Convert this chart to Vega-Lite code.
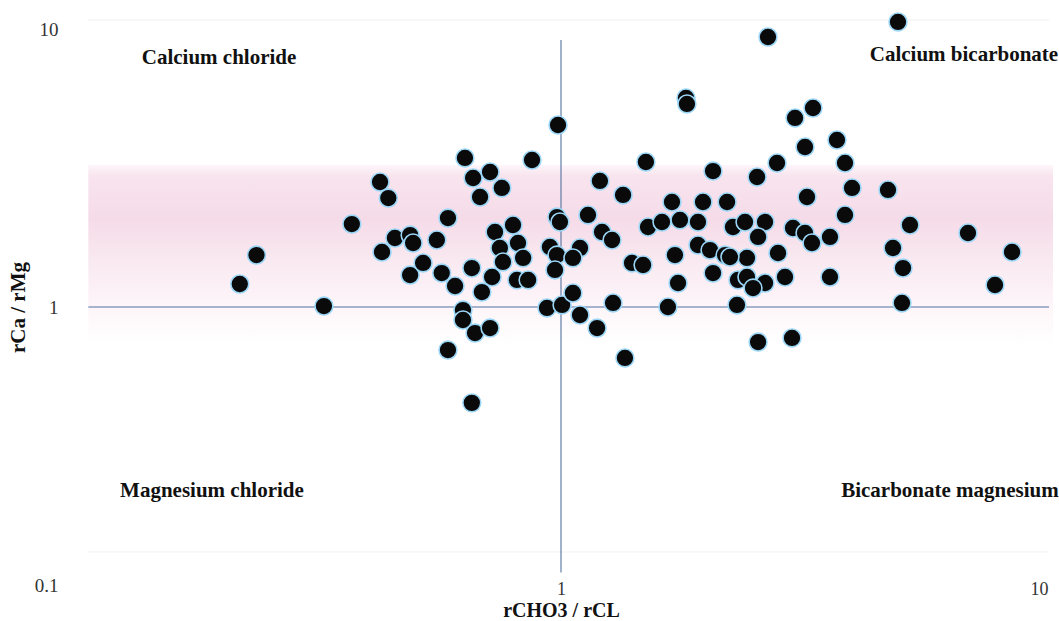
{
  "$schema": "https://vega.github.io/schema/vega-lite/v6.json",
  "width": 974,
  "height": 556,
  "autosize": "none",
  "padding": {"left": 74, "top": 29, "right": 11, "bottom": 36},
  "background": "white",
  "config": {
    "view": {"stroke": null},
    "font": "Liberation Serif"
  },
  "datasets": {
    "points": [
      {"x": 0.219, "y": 1.210}, {"x": 0.237, "y": 1.538}, {"x": 0.326, "y": 1.008}, {"x": 0.372, "y": 1.988},
      {"x": 0.425, "y": 2.816}, {"x": 0.442, "y": 2.466}, {"x": 0.429, "y": 1.577}, {"x": 0.456, "y": 1.771},
      {"x": 0.490, "y": 1.815}, {"x": 0.497, "y": 1.699}, {"x": 0.490, "y": 1.303}, {"x": 0.521, "y": 1.440},
      {"x": 0.556, "y": 1.742}, {"x": 0.586, "y": 2.089}, {"x": 0.569, "y": 1.325}, {"x": 0.606, "y": 1.190},
      {"x": 0.656, "y": 1.381}, {"x": 0.688, "y": 1.132}, {"x": 0.722, "y": 1.282}, {"x": 0.732, "y": 1.861},
      {"x": 0.797, "y": 1.972}, {"x": 0.749, "y": 1.630}, {"x": 0.816, "y": 1.699}, {"x": 0.836, "y": 1.501},
      {"x": 0.760, "y": 1.452}, {"x": 0.812, "y": 1.251}, {"x": 0.856, "y": 1.251}, {"x": 0.635, "y": 3.436},
      {"x": 0.872, "y": 3.379}, {"x": 0.660, "y": 2.911}, {"x": 0.715, "y": 3.059}, {"x": 0.756, "y": 2.680},
      {"x": 0.682, "y": 2.487}, {"x": 0.629, "y": 0.975}, {"x": 0.629, "y": 0.898}, {"x": 0.666, "y": 0.806},
      {"x": 0.715, "y": 0.840}, {"x": 0.586, "y": 0.700}, {"x": 0.656, "y": 0.452}, {"x": 0.936, "y": 0.992},
      {"x": 0.949, "y": 1.644}, {"x": 0.981, "y": 1.538}, {"x": 0.981, "y": 2.107}, {"x": 0.995, "y": 2.022},
      {"x": 0.972, "y": 1.359}, {"x": 0.986, "y": 4.515}, {"x": 1.005, "y": 1.017}, {"x": 1.058, "y": 1.123},
      {"x": 1.094, "y": 0.936}, {"x": 1.186, "y": 0.840}, {"x": 1.279, "y": 1.034}, {"x": 1.353, "y": 0.656},
      {"x": 1.094, "y": 1.630}, {"x": 1.058, "y": 1.501}, {"x": 1.136, "y": 2.143}, {"x": 1.214, "y": 1.861},
      {"x": 1.273, "y": 1.742}, {"x": 1.202, "y": 2.840}, {"x": 1.341, "y": 2.529}, {"x": 1.494, "y": 3.323},
      {"x": 1.399, "y": 1.440}, {"x": 1.474, "y": 1.416}, {"x": 1.509, "y": 1.940}, {"x": 1.612, "y": 2.022},
      {"x": 1.690, "y": 2.386}, {"x": 1.755, "y": 2.056}, {"x": 1.911, "y": 2.022}, {"x": 1.957, "y": 2.386},
      {"x": 1.714, "y": 1.538}, {"x": 1.911, "y": 1.671}, {"x": 2.023, "y": 1.603}, {"x": 2.172, "y": 1.538},
      {"x": 2.193, "y": 2.386}, {"x": 2.255, "y": 1.940}, {"x": 2.052, "y": 1.325}, {"x": 1.739, "y": 1.220},
      {"x": 1.658, "y": 1.000}, {"x": 2.298, "y": 1.017}, {"x": 2.309, "y": 1.251}, {"x": 1.806, "y": 5.646},
      {"x": 1.814, "y": 5.374}, {"x": 2.052, "y": 3.084}, {"x": 2.387, "y": 2.022}, {"x": 2.624, "y": 2.022},
      {"x": 2.539, "y": 1.786}, {"x": 2.409, "y": 1.501}, {"x": 2.790, "y": 1.564}, {"x": 2.409, "y": 1.282},
      {"x": 2.624, "y": 1.220}, {"x": 2.884, "y": 1.282}, {"x": 2.479, "y": 1.170}, {"x": 2.539, "y": 0.748},
      {"x": 2.981, "y": 0.774}, {"x": 2.661, "y": 9.359}, {"x": 2.527, "y": 2.935}, {"x": 2.777, "y": 3.296},
      {"x": 3.170, "y": 3.763}, {"x": 3.024, "y": 4.786}, {"x": 3.292, "y": 5.198}, {"x": 3.687, "y": 3.988},
      {"x": 3.830, "y": 3.296}, {"x": 3.959, "y": 2.680}, {"x": 3.200, "y": 2.487}, {"x": 3.830, "y": 2.143},
      {"x": 2.995, "y": 1.924}, {"x": 3.170, "y": 1.846}, {"x": 3.276, "y": 1.699}, {"x": 3.567, "y": 1.786},
      {"x": 3.567, "y": 1.282}, {"x": 4.693, "y": 2.636}, {"x": 5.207, "y": 1.972}, {"x": 4.805, "y": 1.630},
      {"x": 5.039, "y": 1.381}, {"x": 5.014, "y": 1.034}, {"x": 4.920, "y": 10.60}, {"x": 6.850, "y": 1.846},
      {"x": 8.436, "y": 1.577}, {"x": 7.784, "y": 1.200}, {"x": 2.223, "y": 1.513}
    ],
    "labels": [
      {"x": 0.1985, "y": 7.48, "label": "Calcium chloride"},
      {"x": 6.72, "y": 7.67, "label": "Calcium bicarbonate"},
      {"x": 0.192, "y": 0.2073, "label": "Magnesium chloride"},
      {"x": 6.29, "y": 0.2073, "label": "Bicarbonate magnesium"}
    ],
    "vline": [{"x": 1, "y": 0.111, "y2": 9.13}],
    "hline": [{"y": 1, "x": 0.107, "x2": 10.05}],
    "faint": [{"y": 10.77, "x": 0.107, "x2": 10.05}, {"y": 0.1315, "x": 0.107, "x2": 10.05}],
    "band": [{"x": 0.107, "x2": 10.24, "y": 3.243, "y2": 0.730}]
  },
  "layer": [
    {
      "data": {"name": "band"},
      "mark": {
        "type": "rect",
        "fill": {
          "gradient": "linear", "x1": 0, "y1": 0, "x2": 0, "y2": 1,
          "stops": [
            {"offset": 0, "color": "#fdf6fa"},
            {"offset": 0.06, "color": "#f8e4ee"},
            {"offset": 0.3, "color": "#f5dbe8"},
            {"offset": 0.55, "color": "#f9eaf1"},
            {"offset": 0.78, "color": "#fdf5f9"},
            {"offset": 1, "color": "#ffffff"}
          ]
        }
      },
      "encoding": {
        "x": {"field": "x", "type": "quantitative", "scale": {"type": "log", "domain": [0.1, 10]},
              "axis": {"values": [0.1, 1, 10], "labelExpr": "datum.value < 0.5 ? '' : datum.label", "format": "~g",
                       "grid": false, "ticks": false, "domain": false, "labelFont": "Liberation Serif",
                       "labelFontSize": 18, "labelColor": "#333333", "labelPadding": -5,
                       "title": "rCHO3 / rCL", "titleFont": "Liberation Serif", "titleFontSize": 20,
                       "titleFontWeight": "bold", "titleColor": "#111111", "titlePadding": 2}},
        "x2": {"field": "x2"},
        "y": {"field": "y", "type": "quantitative", "scale": {"type": "log", "domain": [0.1, 10]},
              "axis": {"values": [0.1, 1, 10], "format": "~g", "grid": false, "ticks": false, "domain": false,
                       "labelFont": "Liberation Serif", "labelFontSize": 19, "labelColor": "#333333",
                       "labelPadding": 16, "title": "rCa / rMg", "titleFont": "Liberation Serif",
                       "titleFontSize": 21, "titleFontWeight": "bold", "titleColor": "#111111", "titlePadding": 6}},
        "y2": {"field": "y2"}
      }
    },
    {
      "data": {"name": "faint"},
      "mark": {"type": "rule", "color": "#f1f1f1", "strokeWidth": 1},
      "encoding": {
        "x": {"field": "x", "type": "quantitative"},
        "x2": {"field": "x2"},
        "y": {"field": "y", "type": "quantitative"}
      }
    },
    {
      "data": {"name": "vline"},
      "mark": {"type": "rule", "color": "#52729f", "strokeWidth": 1.1},
      "encoding": {
        "x": {"field": "x", "type": "quantitative"},
        "y": {"field": "y", "type": "quantitative"},
        "y2": {"field": "y2"}
      }
    },
    {
      "data": {"name": "hline"},
      "mark": {"type": "rule", "color": "#52729f", "strokeWidth": 1.1},
      "encoding": {
        "x": {"field": "x", "type": "quantitative"},
        "x2": {"field": "x2"},
        "y": {"field": "y", "type": "quantitative"}
      }
    },
    {
      "data": {"name": "points"},
      "mark": {"type": "circle", "size": 320, "fill": "#0a0a0a", "fillOpacity": 1, "stroke": "#9bd6f7", "strokeWidth": 1.6, "opacity": 1},
      "encoding": {
        "x": {"field": "x", "type": "quantitative"},
        "y": {"field": "y", "type": "quantitative"}
      }
    },
    {
      "data": {"name": "labels"},
      "mark": {"type": "text", "font": "Liberation Serif", "fontSize": 21, "fontWeight": "bold", "color": "#111111", "align": "center", "baseline": "alphabetic"},
      "encoding": {
        "x": {"field": "x", "type": "quantitative"},
        "y": {"field": "y", "type": "quantitative"},
        "text": {"field": "label"}
      }
    }
  ]
}
